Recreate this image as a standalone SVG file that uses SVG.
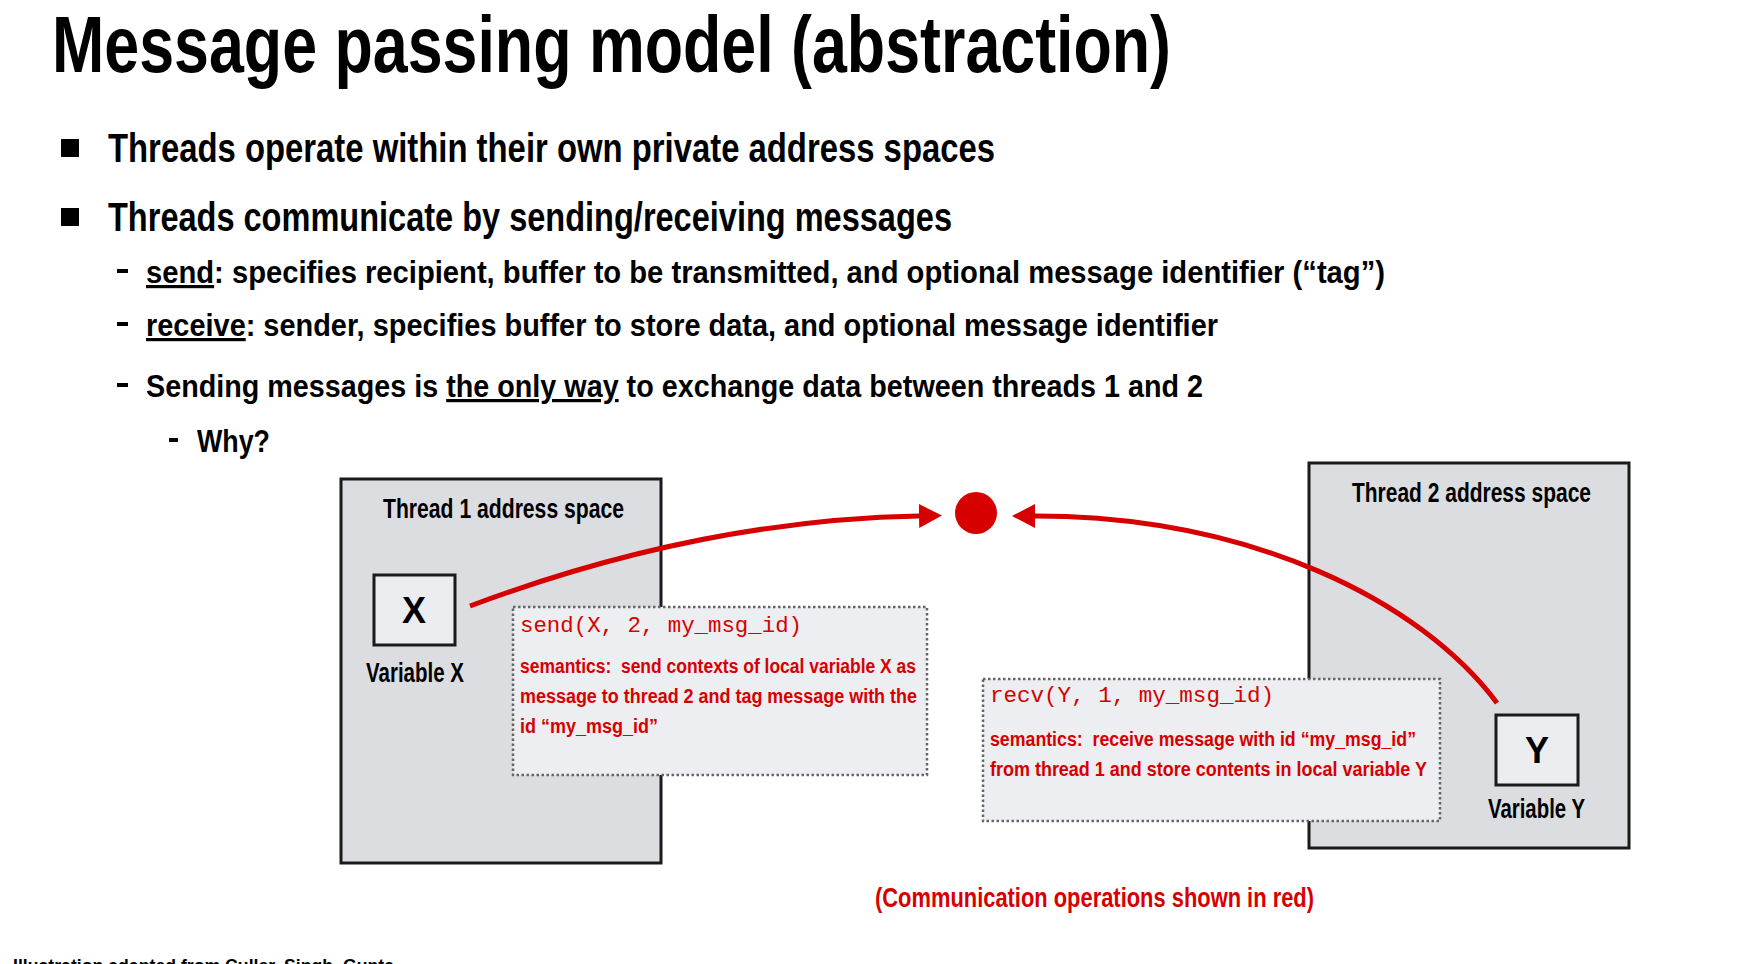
<svg xmlns="http://www.w3.org/2000/svg" width="1740" height="964" viewBox="0 0 1740 964">
<style>
  .sans { font-family: "Liberation Sans", Arial, sans-serif; font-weight: bold; }
  .blk { fill: #000; }
  .red { fill: #d70000; }
  .u { text-decoration: underline; }
  .mono { font-family: "Liberation Mono", "Courier New", monospace; font-size: 22.5px; fill: #d70000; }
  .thread { fill: #dcdde0; stroke: #1a1a1a; stroke-width: 3; }
  .var { fill: #ecedf0; stroke: #1a1a1a; stroke-width: 3; }
  .op { fill: #edeef1; stroke: #666; stroke-width: 2.5; stroke-dasharray: 2.5 2.5; }
  .conn { fill: none; stroke: #d70000; stroke-width: 5; }
  .pre { white-space: pre; }
</style>
<defs>
  <marker id="ah" markerUnits="userSpaceOnUse" markerWidth="24" markerHeight="24" refX="0" refY="12" orient="auto">
    <path d="M0,0 L23,12 L0,24 Z" fill="#d70000"/>
  </marker>
</defs>
<rect width="1740" height="964" fill="#fff"/>

<g id="title">
  <text class="sans blk" x="52" y="72" font-size="80" textLength="1119" lengthAdjust="spacingAndGlyphs">Message passing model (abstraction)</text>
</g>

<g id="bullets">
  <rect x="61" y="139" width="18" height="18" fill="#000"/>
  <text class="sans blk" x="108" y="162" font-size="41" textLength="887" lengthAdjust="spacingAndGlyphs">Threads operate within their own private address spaces</text>
  <rect x="61" y="208" width="18" height="18" fill="#000"/>
  <text class="sans blk" x="108" y="231" font-size="41" textLength="844" lengthAdjust="spacingAndGlyphs">Threads communicate by sending/receiving messages</text>

  <rect x="117" y="269" width="11" height="4" fill="#000"/>
  <text class="sans blk" x="146" y="283" font-size="32" textLength="1239" lengthAdjust="spacingAndGlyphs"><tspan class="u">send</tspan>: specifies recipient, buffer to be transmitted, and optional message identifier (“tag”)</text>

  <rect x="117" y="322" width="11" height="4" fill="#000"/>
  <text class="sans blk" x="146" y="336" font-size="32" textLength="1072" lengthAdjust="spacingAndGlyphs"><tspan class="u">receive</tspan>: sender, specifies buffer to store data, and optional message identifier</text>

  <rect x="117" y="383" width="11" height="4" fill="#000"/>
  <text class="sans blk" x="146" y="397" font-size="32" textLength="1057" lengthAdjust="spacingAndGlyphs">Sending messages is <tspan class="u">the only way</tspan> to exchange data between threads 1 and 2</text>

  <rect x="169" y="438" width="9" height="4" fill="#000"/>
  <text class="sans blk" x="197" y="452" font-size="32" textLength="73" lengthAdjust="spacingAndGlyphs">Why?</text>
</g>

<g id="thread1">
  <rect class="thread" x="341" y="479" width="320" height="384"/>
  <text class="sans blk" x="383" y="518" font-size="27" textLength="241" lengthAdjust="spacingAndGlyphs">Thread 1 address space</text>
</g>
<g id="varX">
  <rect class="var" x="374" y="575" width="81" height="70"/>
  <text class="sans blk" x="414" y="623" font-size="36" text-anchor="middle">X</text>
  <text class="sans blk" x="366" y="682" font-size="27" textLength="98" lengthAdjust="spacingAndGlyphs">Variable X</text>
</g>
<g id="send">
  <rect class="op" x="513" y="607" width="414" height="168"/>
  <text class="mono" x="520" y="632" textLength="282" lengthAdjust="spacingAndGlyphs">send(X, 2, my_msg_id)</text>
  <text class="sans red pre" x="520" y="673" font-size="20" textLength="396" lengthAdjust="spacingAndGlyphs">semantics:  send contexts of local variable X as</text>
  <text class="sans red" x="520" y="703" font-size="20" textLength="397" lengthAdjust="spacingAndGlyphs">message to thread 2 and tag message with the</text>
  <text class="sans red" x="520" y="733" font-size="20" textLength="138" lengthAdjust="spacingAndGlyphs">id “my_msg_id”</text>
</g>

<g id="thread2">
  <rect class="thread" x="1309" y="463" width="320" height="385"/>
  <text class="sans blk" x="1352" y="502" font-size="27" textLength="239" lengthAdjust="spacingAndGlyphs">Thread 2 address space</text>
</g>
<g id="varY">
  <rect class="var" x="1496" y="715" width="82" height="70"/>
  <text class="sans blk" x="1537" y="763" font-size="36" text-anchor="middle">Y</text>
  <text class="sans blk" x="1488" y="818" font-size="27" textLength="97" lengthAdjust="spacingAndGlyphs">Variable Y</text>
</g>
<g id="recv">
  <rect class="op" x="983" y="679" width="457" height="142"/>
  <text class="mono" x="990" y="702" textLength="284" lengthAdjust="spacingAndGlyphs">recv(Y, 1, my_msg_id)</text>
  <text class="sans red pre" x="990" y="746" font-size="20" textLength="426" lengthAdjust="spacingAndGlyphs">semantics:  receive message with id “my_msg_id”</text>
  <text class="sans red" x="990" y="776" font-size="20" textLength="437" lengthAdjust="spacingAndGlyphs">from thread 1 and store contents in local variable Y</text>
</g>

<g id="channel">
  <circle cx="976" cy="513" r="21" fill="#d70000"/>
</g>

<g id="connectors">
  <path class="conn" d="M470,606 Q700,520 919,516" marker-end="url(#ah)"/>
  <path class="conn" d="M1497,703 C1420,600 1250,516 1035,516" marker-end="url(#ah)"/>
</g>

<g id="notes">
  <text class="sans red" x="875" y="907" font-size="28" textLength="439" lengthAdjust="spacingAndGlyphs">(Communication operations shown in red)</text>
  <text class="sans blk" x="13" y="972" font-size="18" textLength="381" lengthAdjust="spacingAndGlyphs">Illustration adapted from Culler, Singh, Gupta</text>
</g>
</svg>
